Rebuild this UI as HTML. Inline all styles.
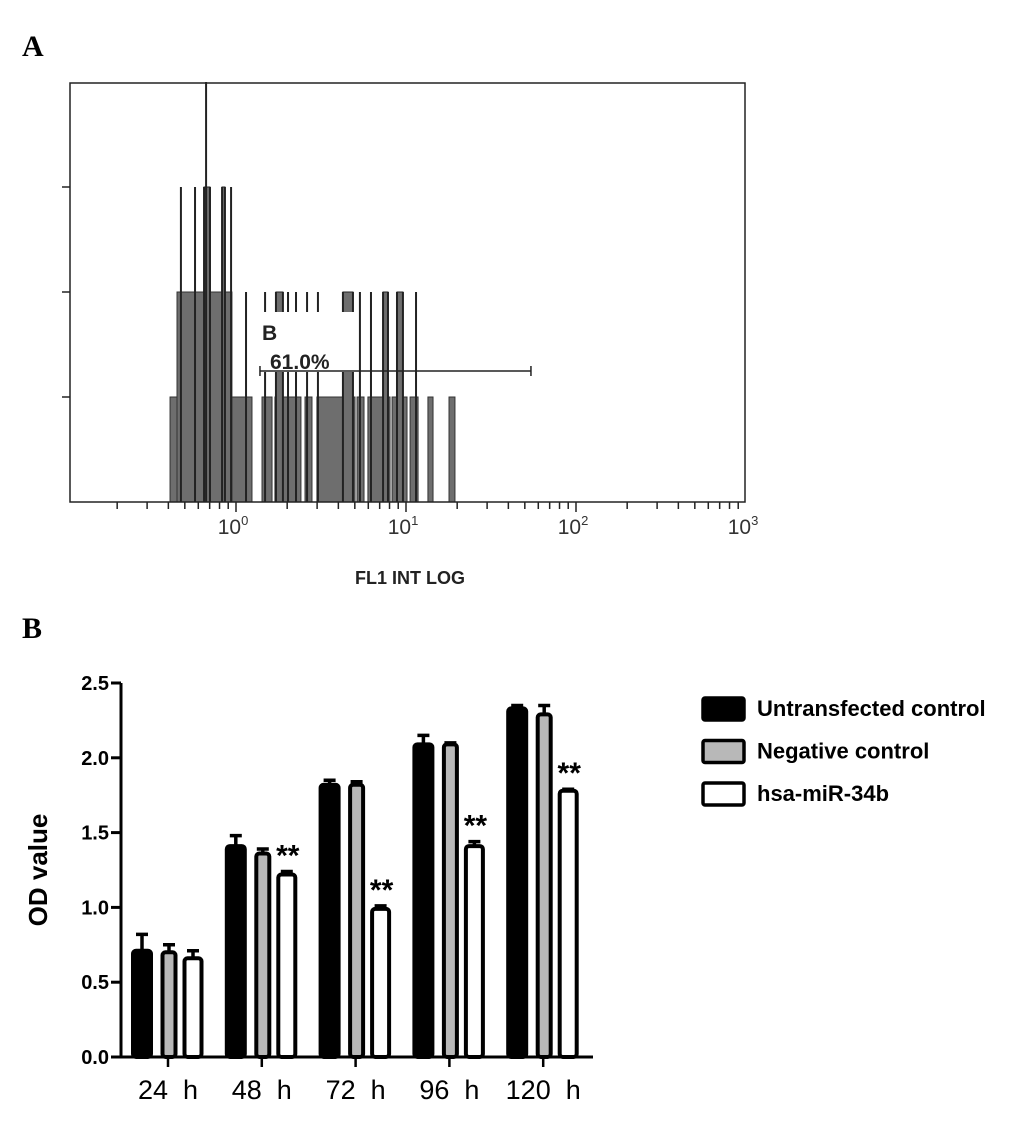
<!DOCTYPE html>
<html><head><meta charset="utf-8"><style>
body{margin:0;background:#fff;}
svg text{font-family:"Liberation Sans",Arial,sans-serif;}
</style></head><body>
<svg id="chart" width="1033" height="1133" viewBox="0 0 1033 1133" xmlns="http://www.w3.org/2000/svg">
<text x="22" y="56" style="font-family:'Liberation Serif',serif" font-size="30" font-weight="bold">A</text>
<text x="22" y="638" style="font-family:'Liberation Serif',serif" font-size="30" font-weight="bold">B</text>
<g id="hist"></g>
<g id="bars"></g>
</svg>
<script>
// ---- Histogram data (log10 FL1 intensity ranges and counts) ----
const histLo = [-0.388,-0.347,0.153,0.229,0.406,0.476,0.712,0.776,0.918,1.024,1.129,1.253];
const histHi = [0.094,-0.024,0.212,0.382,0.447,0.700,0.753,0.906,1.006,1.071,1.159,1.288];
const histCount = [1,2,1,1,1,1,1,1,1,1,1,1];
const spikeLog = [-0.324,-0.241,-0.188,-0.176,-0.153,-0.082,-0.065,-0.029,0.059,0.171,0.235,0.276,0.306,0.353,0.418,0.482,0.629,0.688,0.729,0.794,0.865,0.894,0.947,0.982,1.059];
const spikeCount = [3,3,3,4,3,3,3,3,2,2,2,2,2,2,2,2,2,2,2,2,2,2,2,2,2];
const fillBlocks = [[-0.188,-0.153,3],[-0.082,-0.065,3],[0.235,0.276,2],[0.629,0.688,2],[0.865,0.894,2],[0.947,0.982,2]];
const decadeLabels = ["0","1","2","3"];
const gateLog = [0.141,1.735];
// ---- Bar chart data ----
const categories = ["24  h","48  h","72  h","96  h","120  h"];
const seriesNames = ["Untransfected control","Negative control","hsa-miR-34b"];
const untransfected = [0.71,1.41,1.82,2.09,2.33];
const negative = [0.70,1.36,1.82,2.09,2.29];
const mir34b = [0.66,1.22,0.99,1.41,1.78];
const errUntr = [0.11,0.07,0.03,0.06,0.02];
const errNeg = [0.05,0.03,0.02,0.01,0.06];
const errMir = [0.05,0.02,0.02,0.03,0.01];
const yTicks = ["0.0","0.5","1.0","1.5","2.0","2.5"];
const sigFlags = [false,true,true,true,true];

const NS="http://www.w3.org/2000/svg";
function mk(tag,attrs,parent){const e=document.createElementNS(NS,tag);for(const k in attrs)e.setAttribute(k,attrs[k]);parent.appendChild(e);return e;}

// Histogram
const H=document.getElementById('hist');
const hx=l=>236+170*l, hy=c=>502-105*c;
histLo.forEach((lo,i)=>{const r=mk('rect',{x:hx(lo),y:hy(histCount[i]),width:hx(histHi[i])-hx(lo),height:502-hy(histCount[i]),fill:'#6e6e6e',stroke:'#333','stroke-width':1},H);

});
fillBlocks.forEach(b=>{const r=mk('rect',{x:hx(b[0]),y:hy(b[2]),width:hx(b[1])-hx(b[0]),height:502-hy(b[2]),fill:'#6e6e6e',stroke:'#222','stroke-width':1},H);

});
spikeLog.forEach((l,i)=>{const r=mk('line',{x1:hx(l),x2:hx(l),y1:502,y2:hy(spikeCount[i]),stroke:'#222','stroke-width':2},H);

});
const gb=mk('rect',{x:260,y:312,width:94,height:60,fill:'#fff'},H);


const gB=mk('text',{x:262,y:340,'font-size':21,'font-weight':'bold',fill:'#222'},H);gB.textContent='B';


const gP=mk('text',{x:270,y:369,'font-size':21,'font-weight':'bold',fill:'#222'},H);gP.textContent='61.0%';


const gl=mk('path',{d:`M${hx(gateLog[0])},371H${hx(gateLog[1])}M${hx(gateLog[0])},366V376M${hx(gateLog[1])},366V376`,stroke:'#222','stroke-width':1.5,fill:'none'},H);


const fr=mk('rect',{x:70,y:83,width:675,height:419,fill:'none',stroke:'#222','stroke-width':1.5},H);


[1,2,3].forEach(c=>{const t=mk('line',{x1:62,x2:70,y1:hy(c),y2:hy(c),stroke:'#222','stroke-width':1.5},H);

});
for(let d=-1;d<3;d++){for(let m=1;m<10;m++){const l=d+Math.log10(m);const x=hx(l);if(x<72||x>745)continue;
const t=mk('line',{x1:x,x2:x,y1:502,y2:m==1?512:509,stroke:'#222','stroke-width':1.5},H);

}}
decadeLabels.forEach((s,i)=>{const x=hx(i);const t=mk('text',{x:x-3,y:534,'font-size':21,'text-anchor':'middle',fill:'#333'},H);t.innerHTML=`10<tspan dy="-9" font-size="13">${s}</tspan>`;

});
const xt=mk('text',{x:410,y:584,'font-size':18,'font-weight':'bold','text-anchor':'middle',fill:'#222'},H);xt.textContent='FL1 INT LOG';



// Bar chart
const B=document.getElementById('bars');
const y0=1057, ppu=149.6, yv=v=>y0-v*ppu;
const gx=i=>168+93.8*i;
const series=[untransfected,negative,mir34b], errs=[errUntr,errNeg,errMir];
const fills=['#000','#b8b8b8','#fff'], offs=[-26,1,25], widths=[18,13,17];
categories.forEach((c,i)=>{
 series.forEach((s,j)=>{
  const cx=gx(i)+offs[j], w=widths[j], top=yv(s[i]), et=yv(s[i]+errs[j][i]);
  const e=mk('path',{d:`M${cx},${top}V${et}M${cx-6},${et}H${cx+6}`,stroke:'#000','stroke-width':3.5,fill:'none'},B);
  
  
  const r=mk('rect',{x:cx-w/2,y:top,width:w,height:y0-top,fill:fills[j],stroke:'#000','stroke-width':4,rx:3},B);
  
  
 });
 if(sigFlags[i]){const t=mk('text',{x:gx(i)+offs[2]+1,y:yv(mir34b[i]+errMir[i])-6,'font-size':30,'font-weight':'bold','text-anchor':'middle',fill:'#000'},B);t.textContent='**';
  
  }
 const tk=mk('line',{x1:gx(i),x2:gx(i),y1:y0,y2:y0+10,stroke:'#000','stroke-width':2.5},B);
 
 
 const lb=mk('text',{x:gx(i),y:1099,'font-size':27,'text-anchor':'middle',fill:'#000'},B);lb.textContent=c;
 lb.setAttribute('style','white-space:pre');
 
 
});
const ax=mk('path',{d:`M121,${yv(2.5)}V${y0}H593`,stroke:'#000','stroke-width':3,fill:'none'},B);


yTicks.forEach((s,i)=>{const v=parseFloat(s);
 const t=mk('line',{x1:111,x2:121,y1:yv(v),y2:yv(v),stroke:'#000','stroke-width':3},B);
 
 
 const l=mk('text',{x:109,y:yv(v)+7,'font-size':20,'font-weight':'bold','text-anchor':'end',fill:'#000'},B);l.textContent=s;
 
 });
const yt=mk('text',{x:0,y:0,'font-size':26,'font-weight':'bold','text-anchor':'middle',fill:'#000',transform:'translate(47,870) rotate(-90)'},B);yt.textContent='OD value';


seriesNames.forEach((n,j)=>{const y=697+42.5*j;
 const r=mk('rect',{x:703,y:y+1,width:41,height:22,fill:fills[j],stroke:'#000','stroke-width':3.5,rx:2},B);
 
 
 const t=mk('text',{x:757,y:y+19,'font-size':22,'font-weight':'bold',fill:'#000'},B);t.textContent=n;
 
 });
</script>
</body></html>
